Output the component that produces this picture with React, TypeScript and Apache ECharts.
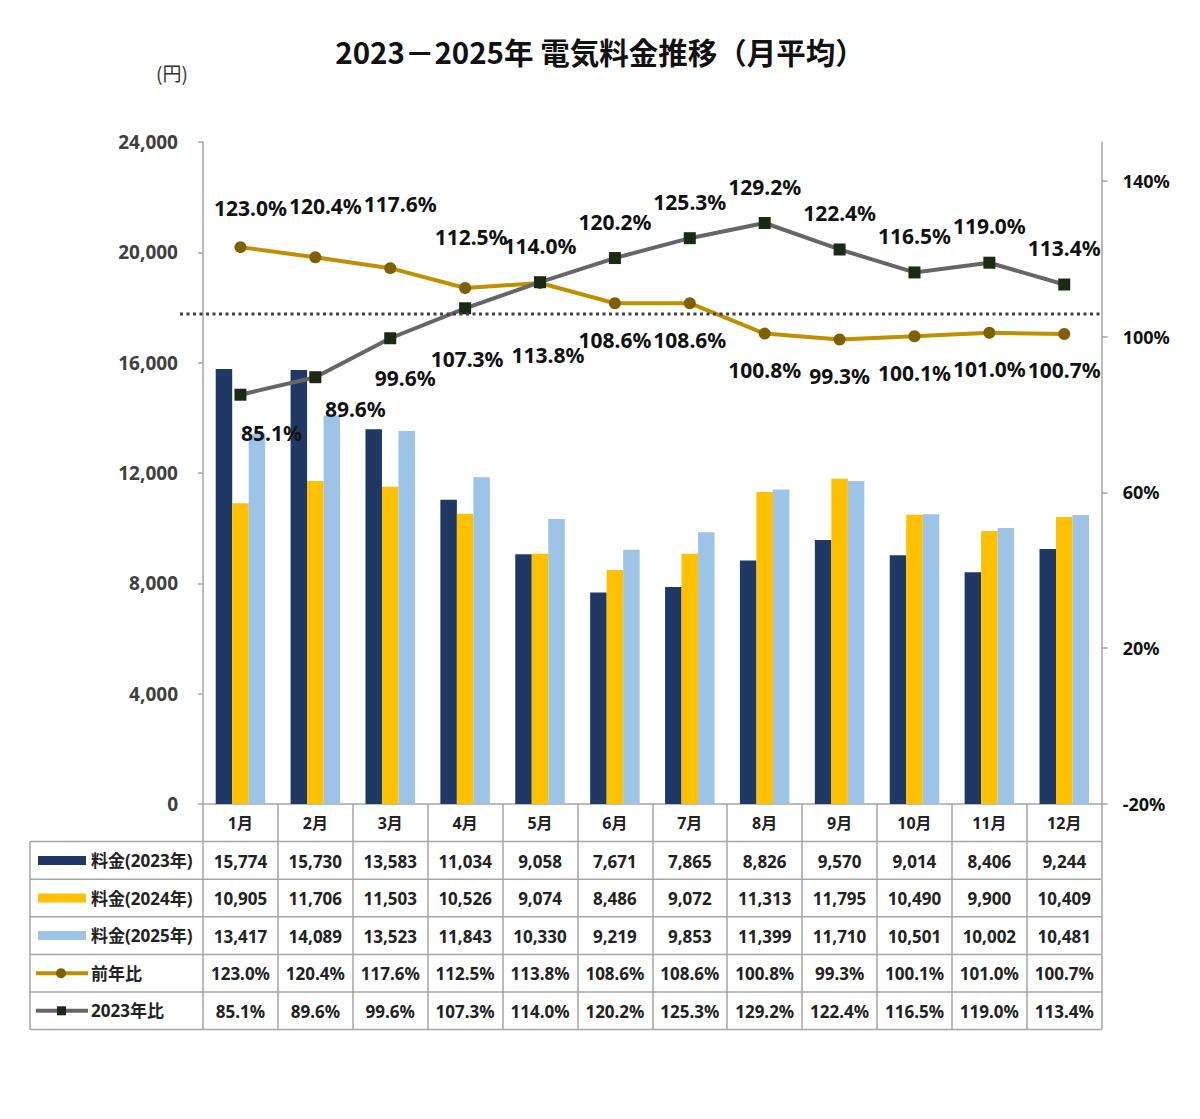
import React, { useEffect, useRef } from "react";
import * as echarts from "echarts";

const months = ["1月", "2月", "3月", "4月", "5月", "6月", "7月", "8月", "9月", "10月", "11月", "12月"];
const fee2023 = [15774, 15730, 13583, 11034, 9058, 7671, 7865, 8826, 9570, 9014, 8406, 9244];
const fee2024 = [10905, 11706, 11503, 10526, 9074, 8486, 9072, 11313, 11795, 10490, 9900, 10409];
const fee2025 = [13417, 14089, 13523, 11843, 10330, 9219, 9853, 11399, 11710, 10501, 10002, 10481];
const yoyRatio = [123.0, 120.4, 117.6, 112.5, 113.8, 108.6, 108.6, 100.8, 99.3, 100.1, 101.0, 100.7];
const vs2023Ratio = [85.1, 89.6, 99.6, 107.3, 114.0, 120.2, 125.3, 129.2, 122.4, 116.5, 119.0, 113.4];
const rightTicks = [-20, 20, 60, 100, 140];
const refLineValue = 105.8;

// hand-placed label nudges (px), as in the source chart
const yoyNudge = [[10, -3], [10, -15], [10, -28], [6, -15], [8, 36], [0, 0], [0, 0], [0, 0], [0, 0], [0, 0], [0, 0], [0, 0]];
const vsNudge = [[31, 2], [40, -5], [15, 3], [2, 14], [0, 0], [0, 0], [0, 0], [0, 0], [0, 0], [0, 0], [0, 0], [0, 0]];

const FONT = "'Noto Sans', 'Noto Sans CJK JP', sans-serif";
const GRID_LEFT = 203;
const GRID_RIGHT_X = 1101.7;
const GRID_TOP = 142;
const GRID_BOTTOM_Y = 804;
const ROW_H = 37.6;
const TABLE_LEFT = 30;
const R_MIN = -20;
const R_MAX = 150;
const BORDER = "#a6a6a6";

const C_NAVY = "#1f3864";
const C_YELLOW = "#ffc000";
const C_BLUE = "#9dc3e6";
const C_GOLD = "#bf9000";
const C_GOLD_DOT = "#7f6000";
const C_GRAY = "#666666";
const C_SQUARE = "#1b2a14";

const fmtYen = (v: number) => v.toLocaleString("en-US");
const fmtPct = (v: number) => v.toFixed(1) + "%";

export default function App() {
    const chartRef = useRef<HTMLDivElement>(null);

    useEffect(() => {
        document.body.style.margin = "0";
        if (chartRef.current === null) return;
        const chart = echarts.init(chartRef.current, undefined, { renderer: "svg" });

        const tableRows = [
            fee2023.map(fmtYen),
            fee2024.map(fmtYen),
            fee2025.map(fmtYen),
            yoyRatio.map(fmtPct),
            vs2023Ratio.map(fmtPct),
        ];
        const legendNames = ["料金(2023年)", "料金(2024年)", "料金(2025年)", "前年比", "2023年比"];
        const gridH = GRID_BOTTOM_Y - GRID_TOP;
        const refY = GRID_TOP + ((R_MAX - refLineValue) / (R_MAX - R_MIN)) * gridH;

        const graphics: any[] = [
            {
                type: "text",
                left: 156,
                top: 63,
                style: { text: "(円)", font: `19px 'Noto Sans CJK JP', serif`, fill: "#333" },
            },
            {
                type: "line",
                shape: { x1: 180, y1: refY, x2: GRID_RIGHT_X, y2: refY },
                style: { stroke: "#404040", lineWidth: 3, lineDash: [3, 3.5] },
                z: 5,
            },
            {
                type: "line",
                shape: { x1: TABLE_LEFT, y1: GRID_BOTTOM_Y + ROW_H, x2: TABLE_LEFT, y2: GRID_BOTTOM_Y + ROW_H * 6 },
                style: { stroke: BORDER, lineWidth: 1.5 },
            },
        ];
        for (let k = 1; k <= 6; k++) {
            const y = GRID_BOTTOM_Y + ROW_H * k;
            graphics.push({
                type: "line",
                shape: { x1: TABLE_LEFT, y1: y, x2: GRID_RIGHT_X, y2: y },
                style: { stroke: BORDER, lineWidth: 1.5 },
            });
        }
        legendNames.forEach((name, k) => {
            const cy = GRID_BOTTOM_Y + ROW_H * (k + 1) + ROW_H / 2;
            if (k < 3) {
                graphics.push({
                    type: "rect",
                    shape: { x: 38, y: cy - 4.5, width: 48, height: 9 },
                    style: { fill: [C_NAVY, C_YELLOW, C_BLUE][k] },
                });
            } else {
                graphics.push({
                    type: "line",
                    shape: { x1: 36, y1: cy, x2: 88, y2: cy },
                    style: { stroke: k === 3 ? C_GOLD : C_GRAY, lineWidth: 4 },
                });
                graphics.push(
                    k === 3
                        ? { type: "circle", shape: { cx: 61, cy, r: 5 }, style: { fill: C_GOLD_DOT } }
                        : { type: "rect", shape: { x: 57, y: cy - 4.5, width: 9, height: 9 }, style: { fill: C_SQUARE } }
                );
            }
            graphics.push({
                type: "text",
                x: 91,
                y: cy,
                style: {
                    text: name,
                    font: `bold 17px ${FONT}`,
                    fill: "#222",
                    verticalAlign: "middle",
                    align: "left",
                },
            });
        });

        const lineLabel = {
            show: true,
            distance: 20,
            fontSize: 21,
            fontWeight: "bold",
            fontFamily: FONT,
            color: "#111",
            formatter: (p: any) => fmtPct(p.value),
        };

        const option: any = {
            animation: false,
            title: {
                text: "2023－2025年 電気料金推移（月平均）",
                left: "center",
                top: 31,
                textStyle: { fontFamily: "'Noto Sans CJK JP', sans-serif", fontSize: 29.5, fontWeight: "bold", color: "#111" },
            },
            grid: {
                left: GRID_LEFT,
                right: 1200 - GRID_RIGHT_X,
                top: GRID_TOP,
                bottom: 1119 - GRID_BOTTOM_Y,
            },
            graphic: graphics,
            xAxis: [
                {
                    type: "category",
                    data: months,
                    axisLine: { show: true, lineStyle: { color: BORDER, width: 1.5 } },
                    axisTick: { show: true, length: ROW_H * 6, lineStyle: { color: BORDER, width: 1.5 } },
                    axisLabel: { interval: 0, margin: 11, fontSize: 16, fontWeight: "bold", fontFamily: FONT, color: "#222" },
                    splitLine: { show: false },
                },
                ...tableRows.map((row, k) => ({
                    type: "category",
                    position: "bottom",
                    offset: ROW_H * (k + 1),
                    data: row,
                    axisLine: { show: false },
                    axisTick: { show: false },
                    splitLine: { show: false },
                    axisLabel: { interval: 0, margin: 11, fontSize: 17, fontWeight: "bold", fontFamily: FONT, color: "#222" },
                })),
            ],
            yAxis: [
                {
                    type: "value",
                    min: 0,
                    max: 24000,
                    interval: 4000,
                    axisLine: { show: true, lineStyle: { color: BORDER, width: 1.5 } },
                    axisTick: { show: true, length: 5, lineStyle: { color: BORDER, width: 1.5 } },
                    splitLine: { show: false },
                    axisLabel: {
                        margin: 25,
                        fontSize: 19,
                        fontWeight: "bold",
                        fontFamily: FONT,
                        color: "#404040",
                        formatter: (v: number) => fmtYen(v),
                    },
                },
                {
                    type: "value",
                    min: R_MIN,
                    max: R_MAX,
                    position: "right",
                    axisLine: { show: true, lineStyle: { color: BORDER, width: 1.5 } },
                    axisTick: { show: true, length: 6, customValues: rightTicks, lineStyle: { color: BORDER, width: 1.5 } },
                    splitLine: { show: false },
                    axisLabel: {
                        customValues: rightTicks,
                        margin: 21,
                        fontSize: 18,
                        fontWeight: "bold",
                        fontFamily: FONT,
                        color: "#111",
                        formatter: (v: number) => v + "%",
                    },
                },
            ],
            series: [
                { name: "料金(2023年)", type: "bar", data: fee2023, barWidth: 16.5, barGap: "0%", itemStyle: { color: C_NAVY } },
                { name: "料金(2024年)", type: "bar", data: fee2024, barWidth: 16.5, barGap: "0%", itemStyle: { color: C_YELLOW } },
                { name: "料金(2025年)", type: "bar", data: fee2025, barWidth: 16.5, barGap: "0%", itemStyle: { color: C_BLUE } },
                {
                    name: "前年比",
                    type: "line",
                    yAxisIndex: 1,
                    symbol: "circle",
                    symbolSize: 12,
                    lineStyle: { color: C_GOLD, width: 4 },
                    itemStyle: { color: C_GOLD_DOT },
                    label: lineLabel,
                    z: 3,
                    data: yoyRatio.map((v, i) => ({
                        value: v,
                        label: { position: v >= vs2023Ratio[i] ? "top" : "bottom", offset: yoyNudge[i] },
                    })),
                },
                {
                    name: "2023年比",
                    type: "line",
                    yAxisIndex: 1,
                    symbol: "rect",
                    symbolSize: 12,
                    lineStyle: { color: C_GRAY, width: 4 },
                    itemStyle: { color: C_SQUARE },
                    label: lineLabel,
                    z: 4,
                    data: vs2023Ratio.map((v, i) => ({
                        value: v,
                        label: { position: v > yoyRatio[i] ? "top" : "bottom", offset: vsNudge[i] },
                    })),
                },
            ],
        };

        chart.setOption(option);

        return () => {
            chart.dispose();
        };
    }, []);

    return <div ref={chartRef} style={{ width: "1200px", height: "1119px" }} />;
}
